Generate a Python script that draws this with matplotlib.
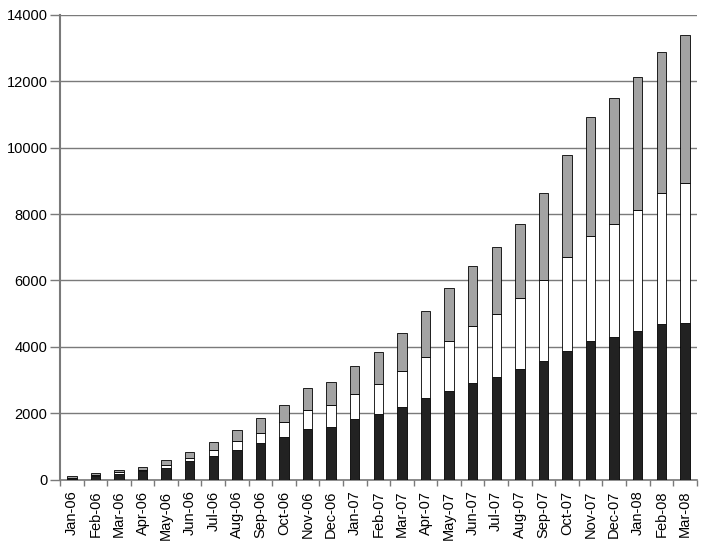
import numpy as np
import matplotlib
matplotlib.use('Agg')
import matplotlib.pyplot as plt

# month labels
months = ['Jan-06', 'Feb-06', 'Mar-06', 'Apr-06', 'May-06', 'Jun-06', 'Jul-06',
          'Aug-06', 'Sep-06', 'Oct-06', 'Nov-06', 'Dec-06', 'Jan-07', 'Feb-07',
          'Mar-07', 'Apr-07', 'May-07', 'Jun-07', 'Jul-07', 'Aug-07', 'Sep-07',
          'Oct-07', 'Nov-07', 'Dec-07', 'Jan-08', 'Feb-08', 'Mar-08']

# stacked segments
black_part = [30, 120, 180, 245, 347, 558, 718, 898, 1100, 1281, 1513, 1583, 1815,
              1960, 2186, 2448, 2677, 2900, 3090, 3322, 3582, 3883, 4175, 4296,
              4477, 4679, 4727]
white_part = [25, 30, 46, 41, 90, 81, 162, 254, 293, 452, 592, 667, 753, 910,
              1085, 1254, 1498, 1737, 1910, 2141, 2432, 2834, 3175, 3397, 3657,
              3949, 4203]
grey_part = [50, 40, 54, 82, 142, 199, 260, 340, 461, 522, 644, 699, 854, 983,
             1146, 1387, 1590, 1800, 2000, 2249, 2614, 3057, 3569, 3799, 3991,
             4251, 4461]

plt.rcParams['font.family'] = ['Liberation Sans', 'DejaVu Sans']

fig = plt.figure(figsize=(7.06, 5.45), dpi=100)
ax = fig.add_axes([60 / 706, (545 - 479.5) / 545, (696.7 - 60) / 706, 464.5 / 545])

x = np.arange(len(months))
black = np.array(black_part)
white = np.array(white_part)
grey = np.array(grey_part)

w = 0.4
ax.bar(x, black, width=w, color='#222222', edgecolor='black', linewidth=0.6, zorder=3)
ax.bar(x, white, width=w, bottom=black, color='white', edgecolor='black', linewidth=0.6, zorder=3)
ax.bar(x, grey, width=w, bottom=black + white, color='#a3a3a3', edgecolor='black', linewidth=0.6, zorder=3)

ax.set_xlim(-0.5, len(months) - 0.5)
ax.set_ylim(0, 14000)
ax.set_yticks(np.arange(0, 14001, 2000))
ax.yaxis.grid(True, color='#7a7a7a', linewidth=1.0, zorder=0)
ax.set_axisbelow(True)

ax.set_xticks(x)
ax.set_xticklabels(months, rotation=90, fontsize=10.5)
ax.tick_params(axis='x', length=0, pad=8)
ax.set_xticks(np.arange(-0.5, len(months), 1), minor=True)
ax.tick_params(axis='x', which='minor', length=4, color='#7a7a7a', width=1.0)
ax.tick_params(axis='y', labelsize=10.5, length=7, color='#7a7a7a', width=1.0, pad=2)

for s in ['top', 'right']:
    ax.spines[s].set_visible(False)
ax.spines['left'].set_color('#7a7a7a')
ax.spines['left'].set_linewidth(1.5)
ax.spines['bottom'].set_color('#7a7a7a')
ax.spines['bottom'].set_linewidth(1.2)

fig.savefig('out.png', dpi=100)
